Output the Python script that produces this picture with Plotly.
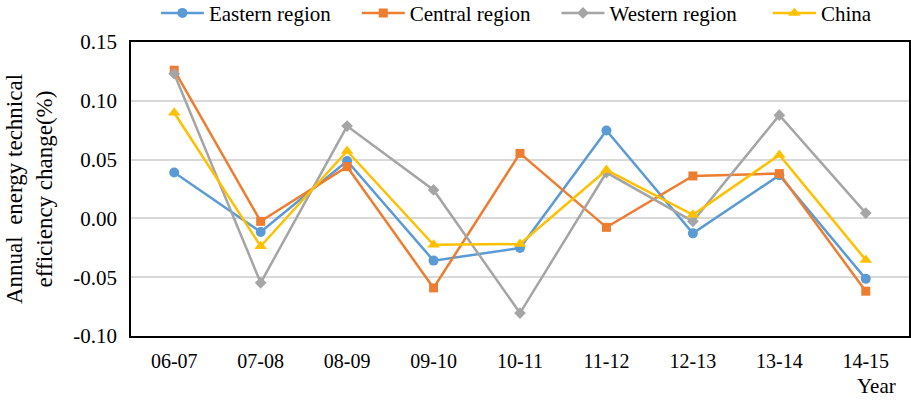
import plotly.graph_objects as go

years = ["06-07", "07-08", "08-09", "09-10", "10-11", "11-12", "12-13", "13-14", "14-15"]
eastern = [0.039, -0.0115, 0.0488, -0.0359, -0.0252, 0.0748, -0.0127, 0.0367, -0.0514]
central = [0.126, -0.0025, 0.044, -0.0591, 0.0553, -0.0076, 0.0361, 0.0381, -0.0619]
western = [0.123, -0.0548, 0.0785, 0.0242, -0.0805, 0.039, -0.0025, 0.0878, 0.0045]
china = [0.0898, -0.0237, 0.0573, -0.0224, -0.0218, 0.0412, 0.003, 0.0539, -0.0353]
y_ticks = [-0.10, -0.05, 0.00, 0.05, 0.10, 0.15]
y_tick_labels = ["-0.10", "-0.05", "0.00", "0.05", "0.10", "0.15"]

NB = "\u00a0"
series = [
    ("Eastern region", eastern, "#5B9BD5", "circle", 10, 4),
    ("Central region", central, "#ED7D31", "square", 9, 4),
    ("Western region", western, "#A5A5A5", "diamond", 9, 5),
    ("China", china, "#FFC000", "triangle-up", 11, 0),
]

font = "Liberation Serif, Times New Roman, serif"
fig = go.Figure()
for name, vals, color, sym, size, pad in series:
    fig.add_trace(go.Scatter(
        x=years, y=vals, name=name + NB * pad, mode="lines+markers",
        line=dict(color=color, width=2.5),
        marker=dict(symbol=sym, size=size, color=color),
    ))

fig.update_layout(
    width=911, height=401,
    margin=dict(l=131, r=2, t=42, b=65, autoexpand=False),
    paper_bgcolor="white", plot_bgcolor="white",
    font=dict(family=font, size=20, color="black"),
    showlegend=True,
    legend=dict(orientation="h", xref="paper", x=0.032, xanchor="left",
                yref="container", y=0.967, yanchor="middle",
                font=dict(size=21, family=font), bgcolor="rgba(0,0,0,0)", itemwidth=43,
                tracegroupgap=0),
    xaxis=dict(type="category", range=[-0.5, 8.5], showgrid=False, automargin=False,
               showline=True, linecolor="black", linewidth=1.5, mirror=True,
               ticks="", ticklabelstandoff=6, tickfont=dict(size=20, family=font)),
    yaxis=dict(range=[-0.1, 0.15], tickvals=y_ticks, ticktext=y_tick_labels,
               showgrid=True, gridcolor="#D9D9D9", gridwidth=1.5, automargin=False,
               zeroline=False, ticklabelstandoff=8,
               showline=True, linecolor="black", linewidth=1.5, mirror=True,
               ticks="", tickfont=dict(size=21, family=font),
               title=dict(text="Annual  energy technical<br>efficiency change(%)",
                          font=dict(size=23, family=font), standoff=14)),
    annotations=[dict(text="Year", xref="paper", yref="paper", x=0.986, y=-0.17,
                      xanchor="right", yanchor="middle", showarrow=False,
                      font=dict(size=21, family=font))],
)

fig.write_html("out.html", config={"displayModeBar": False},
               post_script="document.body.style.margin='0';document.body.style.overflow='hidden';")
